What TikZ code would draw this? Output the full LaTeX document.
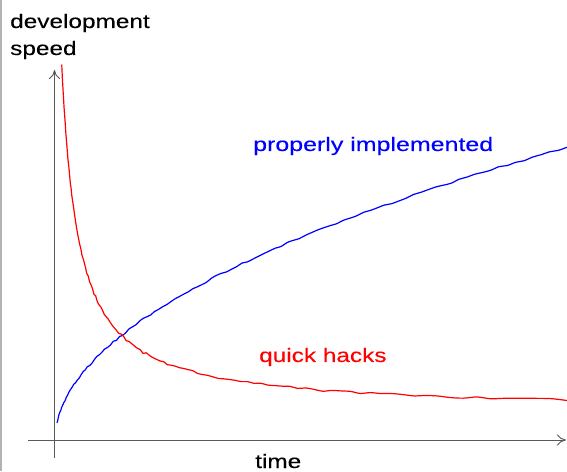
\documentclass[tikz,border=0pt]{standalone}
\usepackage{fontspec}
\setmainfont{Liberation Sans}
\newfontfamily\lblfont[FakeBold=0.15]{Liberation Sans}
\usetikzlibrary{arrows.meta}
\tikzset{
  lbl/.style={anchor=base west, inner sep=0pt, font=\lblfont\fontsize{19.5}{22}\selectfont},
  axis/.style={draw=black!65, line width=0.9pt, -{To[length=9pt,width=11pt]}},
  curve/.style={line width=1.2pt, line join=round},
}
\newcommand{\wide}[1]{\scalebox{1.25}[1]{#1}}
\begin{document}
\begin{tikzpicture}[x=1pt,y=1pt]
\useasboundingbox (0,0) rectangle (567,471);
\draw[black!30, line width=1.5pt] (0.75,0) -- (0.75,471);
% axes
\draw[axis] (28,31) -- (566,31);
\draw[axis] (54.5,13) -- (54.5,401);
% curves
\pgfmathsetseed{7}
\draw[curve, blue] plot[smooth, domain=1.414:22.63, samples=110] ({55+\x*\x}, {29.6+13*\x+0.9*rand});
\draw[curve, red] plot[smooth, domain=2.82:6.258, samples=110] ({45+exp(\x)}, {60+5800*exp(-\x)+1.1*rand});
% labels
\node[lbl] (ylab) at (10,443) {\wide{development}};
\node[lbl] (ylab2) at (10,416) {\wide{speed}};
\node[lbl] (xlab) at (255,3) {\wide{time}};
\node[lbl, blue] (proper) at (253,320) {\scalebox{1.28}[1]{properly implemented}};
\node[lbl, red] (hacks) at (259,109) {\wide{quick hacks}};
\end{tikzpicture}
\end{document}
